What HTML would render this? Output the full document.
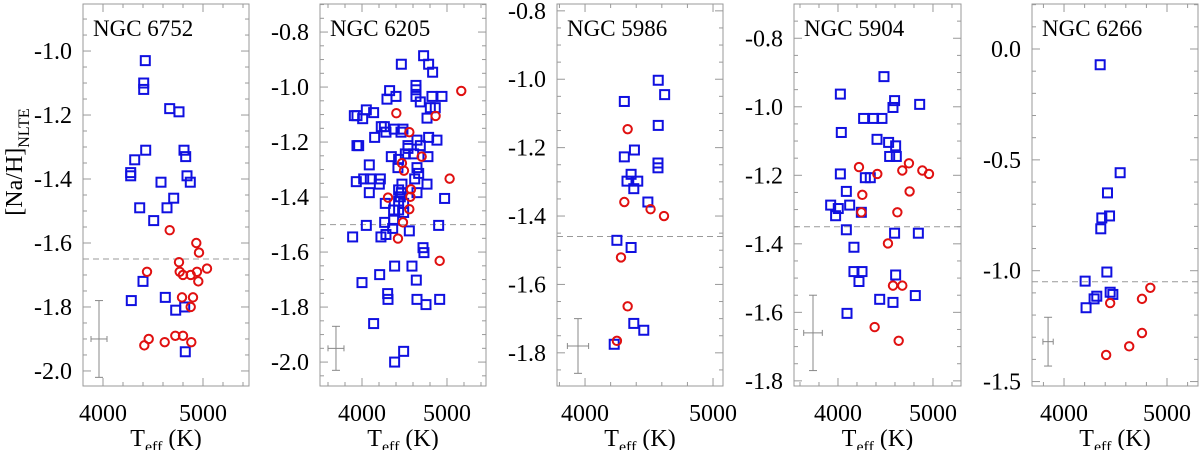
<!DOCTYPE html>
<html><head><meta charset="utf-8"><style>
html,body{margin:0;padding:0;background:#fff;}
svg{display:block;}
svg text{font-family:"Liberation Serif","Times New Roman",serif;}
</style></head><body>
<svg id="chart" width="1200" height="450" viewBox="0 0 1200 450" xmlns="http://www.w3.org/2000/svg" font-family="Liberation Serif, serif">
<text transform="translate(22,162) rotate(-90)" text-anchor="middle" font-size="24" font-family="Liberation Serif, serif">[Na/H]<tspan font-size="16" dy="7">NLTE</tspan></text>
</svg>
<script>
// ---------- data ----------
const clusterNames = ["NGC 6752","NGC 6205","NGC 5986","NGC 5904","NGC 6266"];
const meanLines = [-1.65,-1.50,-1.46,-1.35,-1.05];
// panel 1: NGC 6752
const p1BlueT = [4423,4407,4407,4667,4760,4427,4317,4277,4277,4810,4827,4840,4873,4580,4707,4367,4640,4507,4400,4283,4623,4727,4817,4823];
const p1BlueNa = [-1.03,-1.10,-1.12,-1.18,-1.19,-1.31,-1.34,-1.38,-1.39,-1.31,-1.33,-1.39,-1.41,-1.41,-1.46,-1.49,-1.49,-1.53,-1.72,-1.78,-1.77,-1.81,-1.80,-1.94];
const p1RedT = [4667,4933,4960,4760,4440,4767,4800,4877,4940,5040,4953,4790,4900,4877,4723,4800,4457,4413,4617,4883];
const p1RedNa = [-1.56,-1.60,-1.63,-1.66,-1.69,-1.69,-1.70,-1.70,-1.69,-1.68,-1.72,-1.77,-1.77,-1.80,-1.89,-1.89,-1.90,-1.92,-1.91,-1.91];
// panel 2: NGC 6205
const p2BlueT = [4463,4725,4784,4831,4635,4635,4635,4686,4325,4294,4400,4823,4941,4862,4804,4765,4051,4137,3941,4008,3910,4227,4263,4282,4149,4380,4482,4459,3941,3961,4784,4882,4647,4686,4541,4541,4608,4510,4776,4345,4431,4423,4086,4647,4667,3933,4020,4098,4216,4204,4086,4620,4765,4470,4647,4431,4463,4451,4431,4490,4431,4274,4372,4490,4372,4972,4267,4361,4282,4223,4051,3890,4557,4902,4718,4729,4384,4588,4639,4208,4000,4302,4306,4647,4753,4914,4137,4490,4384];
const p2BlueNa = [-0.917,-0.886,-0.917,-0.946,-0.994,-1.010,-1.034,-1.054,-1.013,-1.044,-1.034,-1.034,-1.034,-1.075,-1.075,-1.113,-1.083,-1.093,-1.104,-1.115,-1.104,-1.144,-1.144,-1.164,-1.183,-1.153,-1.153,-1.164,-1.213,-1.213,-1.183,-1.193,-1.193,-1.213,-1.213,-1.223,-1.243,-1.243,-1.253,-1.253,-1.263,-1.293,-1.283,-1.293,-1.314,-1.344,-1.334,-1.334,-1.334,-1.353,-1.384,-1.334,-1.353,-1.353,-1.384,-1.374,-1.384,-1.399,-1.415,-1.423,-1.447,-1.423,-1.447,-1.456,-1.484,-1.405,-1.492,-1.514,-1.536,-1.545,-1.503,-1.545,-1.523,-1.503,-1.584,-1.602,-1.651,-1.651,-1.702,-1.682,-1.711,-1.751,-1.772,-1.772,-1.791,-1.772,-1.860,-1.961,-2.000];
const p2RedT = [5168,4404,4866,4557,4702,4470,4494,5031,4576,4569,4306,4557,4482,4423,4914];
const p2RedNa = [-1.014,-1.095,-1.105,-1.164,-1.253,-1.277,-1.304,-1.333,-1.372,-1.399,-1.402,-1.444,-1.492,-1.551,-1.632];
// panel 3: NGC 5986
const p3BlueT = [4572,4622,4307,4572,4386,4307,4570,4570,4360,4328,4412,4381,4491,4249,4360,4381,4459,4228];
const p3BlueNa = [-1.003,-1.045,-1.065,-1.135,-1.207,-1.227,-1.245,-1.259,-1.278,-1.298,-1.298,-1.320,-1.359,-1.471,-1.492,-1.714,-1.734,-1.775];
const p3RedT = [4333,4307,4512,4617,4281,4333,4249];
const p3RedNa = [-1.146,-1.359,-1.380,-1.400,-1.521,-1.664,-1.765];
// panel 4: NGC 5904
const p4BlueT = [4484,4025,4596,4579,4860,4270,4375,4463,4035,4411,4533,4607,4544,4614,4025,4288,4340,4088,4123,3923,4003,3975,4246,4088,4596,4846,4168,4168,4253,4221,4607,4814,4439,4579,4095];
const p4BlueNa = [-0.912,-0.963,-0.982,-1.002,-0.993,-1.034,-1.034,-1.034,-1.075,-1.095,-1.104,-1.114,-1.145,-1.145,-1.196,-1.207,-1.207,-1.247,-1.287,-1.287,-1.297,-1.318,-1.308,-1.359,-1.369,-1.369,-1.410,-1.481,-1.481,-1.510,-1.491,-1.551,-1.562,-1.571,-1.603];
const p4RedT = [4221,4414,4747,4677,4888,4958,4256,4754,4246,4625,4526,4579,4677,4386,4639];
const p4RedNa = [-1.176,-1.196,-1.165,-1.186,-1.186,-1.196,-1.257,-1.247,-1.308,-1.308,-1.399,-1.522,-1.522,-1.643,-1.683];
// panel 5: NGC 6266
const p5BlueT = [4351,4545,4422,4442,4367,4357,4416,4205,4448,4474,4318,4292,4214];
const p5BlueNa = [-0.071,-0.558,-0.649,-0.753,-0.762,-0.811,-1.006,-1.047,-1.097,-1.107,-1.115,-1.127,-1.167];
const p5RedT = [4838,4757,4448,4757,4633,4409];
const p5RedNa = [-1.077,-1.127,-1.146,-1.281,-1.341,-1.380];
// typical error bars: [teff, na, dT, dNa]
const errBars = [[3960,-1.90,80,0.12],[3694,-1.95,94,0.08],[3945,-1.78,83,0.08],[3737,-1.66,98,0.11],[3845,-1.32,50,0.11]];
const xTickLabels = [4000,5000];
const yTickLabels = [[-1.0,-1.2,-1.4,-1.6,-1.8,-2.0],[-0.8,-1.0,-1.2,-1.4,-1.6,-1.8,-2.0],[-0.8,-1.0,-1.2,-1.4,-1.6,-1.8],[-0.8,-1.0,-1.2,-1.4,-1.6,-1.8],[0.0,-0.5,-1.0,-1.5]];

// ---------- layout ----------
const frames = [
 {l:83,r:249,xmin:3800,xmax:5460,ymax:-0.853,ymin:-2.047,minY:0.05},
 {l:320,r:486,xmin:3506,xmax:5459,ymax:-0.698,ymin:-2.087,minY:0.05},
 {l:557,r:723,xmin:3781,xmax:5078,ymax:-0.78,ymin:-1.897,minY:0.05},
 {l:794,r:961,xmin:3537,xmax:5295,ymax:-0.70,ymin:-1.815,minY:0.05},
 {l:1032,r:1198,xmin:3689,xmax:5301,ymax:0.203,ymin:-1.52,minY:0.1}
];
const TOP=4, BOT=386;
const FF='Liberation Serif, serif';
const blues=[[p1BlueT,p1BlueNa],[p2BlueT,p2BlueNa],[p3BlueT,p3BlueNa],[p4BlueT,p4BlueNa],[p5BlueT,p5BlueNa]];
const reds=[[p1RedT,p1RedNa],[p2RedT,p2RedNa],[p3RedT,p3RedNa],[p4RedT,p4RedNa],[p5RedT,p5RedNa]];
const NS="http://www.w3.org/2000/svg";
const svg=document.getElementById('chart');
function mk(tag,attrs,parent){const e=document.createElementNS(NS,tag);for(const k in attrs)e.setAttribute(k,attrs[k]);(parent||svg).appendChild(e);return e;}

frames.forEach((f,i)=>{
  const g=mk('g',{});
  
  
  const X=t=>f.l+(t-f.xmin)/(f.xmax-f.xmin)*(f.r-f.l);
  const Y=v=>TOP+(f.ymax-v)/(f.ymax-f.ymin)*(BOT-TOP);
  const fr=mk('rect',{x:f.l,y:TOP,width:f.r-f.l,height:BOT-TOP,fill:'none',stroke:'#999','stroke-width':1},g);
  
  
  for(let t=Math.ceil(f.xmin/200)*200;t<=f.xmax;t+=200){
    const major=t%1000===0, L=major?8:4, x=X(t);
    mk('line',{x1:x,x2:x,y1:BOT,y2:BOT-L,stroke:'#999'},g);
    mk('line',{x1:x,x2:x,y1:TOP,y2:TOP+L,stroke:'#999'},g);
  }
  xTickLabels.forEach(t=>{
    const tx=mk('text',{x:X(t),y:421,'text-anchor':'middle','font-size':24,'font-family':FF},g);
    
    
    tx.textContent=t;
  });
  const step=f.minY, majorStep=i===4?0.5:0.2;
  for(let k=Math.ceil(f.ymin/step);k*step<=f.ymax+1e-9;k++){
    const v=k*step, major=Math.abs(v/majorStep-Math.round(v/majorStep))<1e-6, L=major?8:4, y=Y(v);
    mk('line',{x1:f.l,x2:f.l+L,y1:y,y2:y,stroke:'#999'},g);
    mk('line',{x1:f.r,x2:f.r-L,y1:y,y2:y,stroke:'#999'},g);
  }
  yTickLabels[i].forEach(v=>{
    const tx=mk('text',{x:f.l-11,y:Y(v)+8,'text-anchor':'end','font-size':24,'font-family':FF},g);
    
    
    tx.textContent=v.toFixed(1);
  });
  const xt=mk('text',{x:(f.l+f.r)/2,y:446,'text-anchor':'middle','font-size':24,'font-family':FF},g);
  
  
  xt.innerHTML='T<tspan font-size="16" dy="6">eff</tspan><tspan dy="-6"> (K)</tspan>';
  const cl=mk('text',{x:f.l+10,y:36,'font-size':23,'font-family':FF},g);
  
  
  cl.textContent=clusterNames[i];
  const ml=mk('line',{x1:f.l,x2:f.r,y1:Y(meanLines[i]),y2:Y(meanLines[i]),stroke:'#999','stroke-dasharray':'6,4'},g);
  
  
  const eb=errBars[i];
  const eg=mk('g',{stroke:'#888','stroke-width':1},g);
  
  
  mk('line',{x1:X(eb[0]),x2:X(eb[0]),y1:Y(eb[1]+eb[3]),y2:Y(eb[1]-eb[3])},eg);
  mk('line',{x1:X(eb[0]-eb[2]),x2:X(eb[0]+eb[2]),y1:Y(eb[1]),y2:Y(eb[1])},eg);
  mk('line',{x1:X(eb[0])-4,x2:X(eb[0])+4,y1:Y(eb[1]+eb[3]),y2:Y(eb[1]+eb[3])},eg);
  mk('line',{x1:X(eb[0])-4,x2:X(eb[0])+4,y1:Y(eb[1]-eb[3]),y2:Y(eb[1]-eb[3])},eg);
  mk('line',{x1:X(eb[0]-eb[2]),x2:X(eb[0]-eb[2]),y1:Y(eb[1])-3,y2:Y(eb[1])+3},eg);
  mk('line',{x1:X(eb[0]+eb[2]),x2:X(eb[0]+eb[2]),y1:Y(eb[1])-3,y2:Y(eb[1])+3},eg);
  const [bt,bn]=blues[i];
  bt.forEach((t,j)=>{
    const s=mk('rect',{x:X(t)-4.5,y:Y(bn[j])-4.5,width:9,height:9,fill:'none',stroke:'#1010e0','stroke-width':2},g);
    
    
  });
  const [rt,rn]=reds[i];
  rt.forEach((t,j)=>{
    const c=mk('circle',{cx:X(t),cy:Y(rn[j]),r:4.2,fill:'none',stroke:'#e01010','stroke-width':2},g);
    
    
  });
});
</script>
</body></html>
